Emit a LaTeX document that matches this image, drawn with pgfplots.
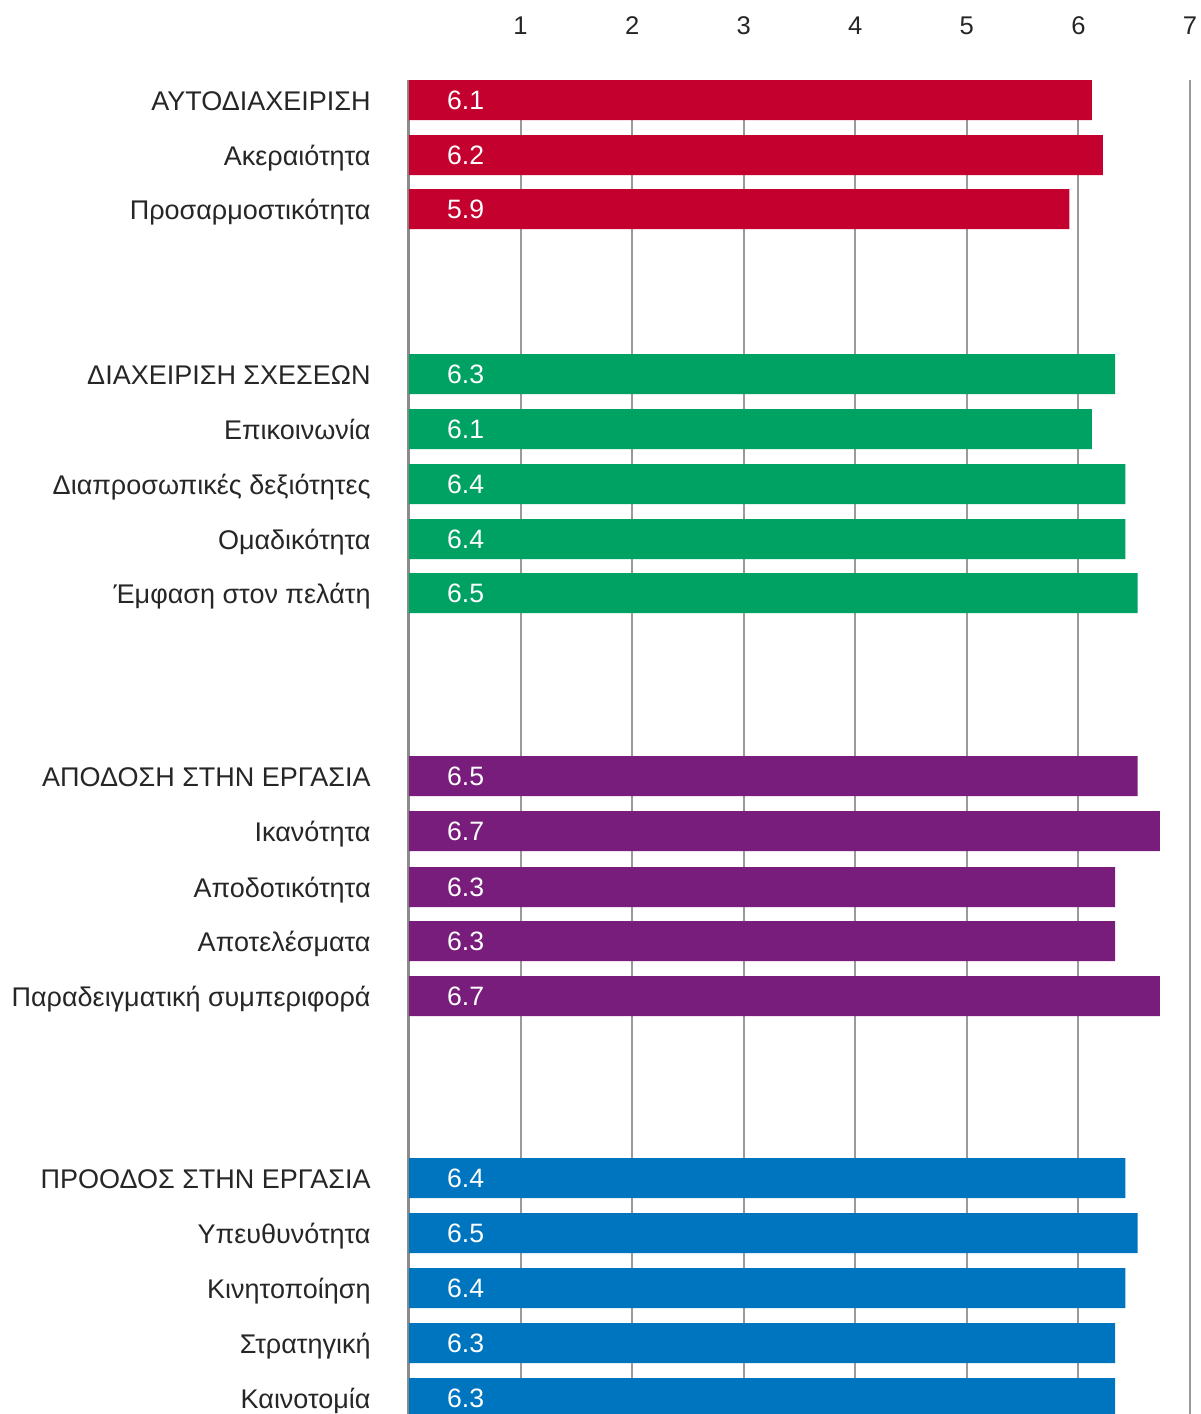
\documentclass[border=0pt]{standalone}
\usepackage{fontspec}
\setmainfont{Liberation Sans}
\usepackage{pgfplots}
\pgfplotsset{compat=1.18}
\usepackage{pgfplotstable}
\definecolor{cred}{HTML}{C4002F}
\definecolor{cgreen}{HTML}{00A264}
\definecolor{cpurple}{HTML}{781D7B}
\definecolor{cblue}{HTML}{0075BF}
\definecolor{gridc}{HTML}{9A9A9A}
\pgfplotstableread{
y val lab
100 6.12 6.1
155 6.22 6.2
209 5.92 5.9
}\groupA
\pgfplotstableread{
y val lab
374 6.33 6.3
429 6.12 6.1
484 6.42 6.4
539 6.42 6.4
593 6.53 6.5
}\groupB
\pgfplotstableread{
y val lab
776 6.53 6.5
831 6.73 6.7
887 6.33 6.3
941 6.33 6.3
996 6.73 6.7
}\groupC
\pgfplotstableread{
y val lab
1178 6.42 6.4
1233 6.53 6.5
1288 6.42 6.4
1343 6.33 6.3
1398 6.33 6.3
}\groupD
\pgfplotsset{barlab/.style={draw=none, mark=none, nodes near coords, point meta=explicit symbolic,
  nodes near coords style={anchor=west, inner sep=0pt, text=white, font=\fontsize{13.3}{15}\selectfont}}}
\begin{document}
\begin{tikzpicture}
\useasboundingbox (0,0) rectangle (600pt,-707pt);
\begin{axis}[
  at={(204.5pt,-707pt)}, anchor=south west,
  scale only axis, width=390.5pt, height=667pt,
  xmin=0, xmax=7, ymin=80, ymax=1414, y dir=reverse,
  axis x line*=top, axis y line*=left, axis line style={draw=none},
  major tick length=0pt,
  xtick={1,2,3,4,5,6,7},
  extra x ticks={0}, extra x tick labels={},
  extra x tick style={grid style={draw=gridc!90!black, line width=1.5pt}},
  xmajorgrids, grid style={draw=gridc, line width=1pt},
  /pgf/number format/assume math mode=true,
  xticklabel style={font=\fontsize{12.8}{14}\selectfont, text=black!85, yshift=19pt},
  ytick={100,155,209,374,429,484,539,593,776,831,887,941,996,1178,1233,1288,1343,1398},
  yticklabels={ΑΥΤΟΔΙΑΧΕΙΡΙΣΗ,Ακεραιότητα,Προσαρμοστικότητα,
    ΔΙΑΧΕΙΡΙΣΗ ΣΧΕΣΕΩΝ,Επικοινωνία,Διαπροσωπικές δεξιότητες,Ομαδικότητα,Έμφαση στον πελάτη,
    ΑΠΟΔΟΣΗ ΣΤΗΝ ΕΡΓΑΣΙΑ,Ικανότητα,Αποδοτικότητα,Αποτελέσματα,Παραδειγματική συμπεριφορά,
    ΠΡΟΟΔΟΣ ΣΤΗΝ ΕΡΓΑΣΙΑ,Υπευθυνότητα,Κινητοποίηση,Στρατηγική,Καινοτομία},
  yticklabel style={font=\fontsize{13.5}{16}\selectfont, text=black!85, anchor=base east, inner sep=0pt, xshift=-19pt, yshift=-5.3pt},
]
\addplot[xbar, bar shift=0pt, bar width=40, fill=cred, draw=none] table[x=val, y=y]{\groupA};
\addplot[xbar, bar shift=0pt, bar width=40, fill=cgreen, draw=none] table[x=val, y=y]{\groupB};
\addplot[xbar, bar shift=0pt, bar width=40, fill=cpurple, draw=none] table[x=val, y=y]{\groupC};
\addplot[xbar, bar shift=0pt, bar width=40, fill=cblue, draw=none] table[x=val, y=y]{\groupD};
\addplot[barlab] table[x expr=0.338, y=y, meta=lab]{\groupA};
\addplot[barlab] table[x expr=0.338, y=y, meta=lab]{\groupB};
\addplot[barlab] table[x expr=0.338, y=y, meta=lab]{\groupC};
\addplot[barlab] table[x expr=0.338, y=y, meta=lab]{\groupD};
\end{axis}
\end{tikzpicture}
\end{document}
